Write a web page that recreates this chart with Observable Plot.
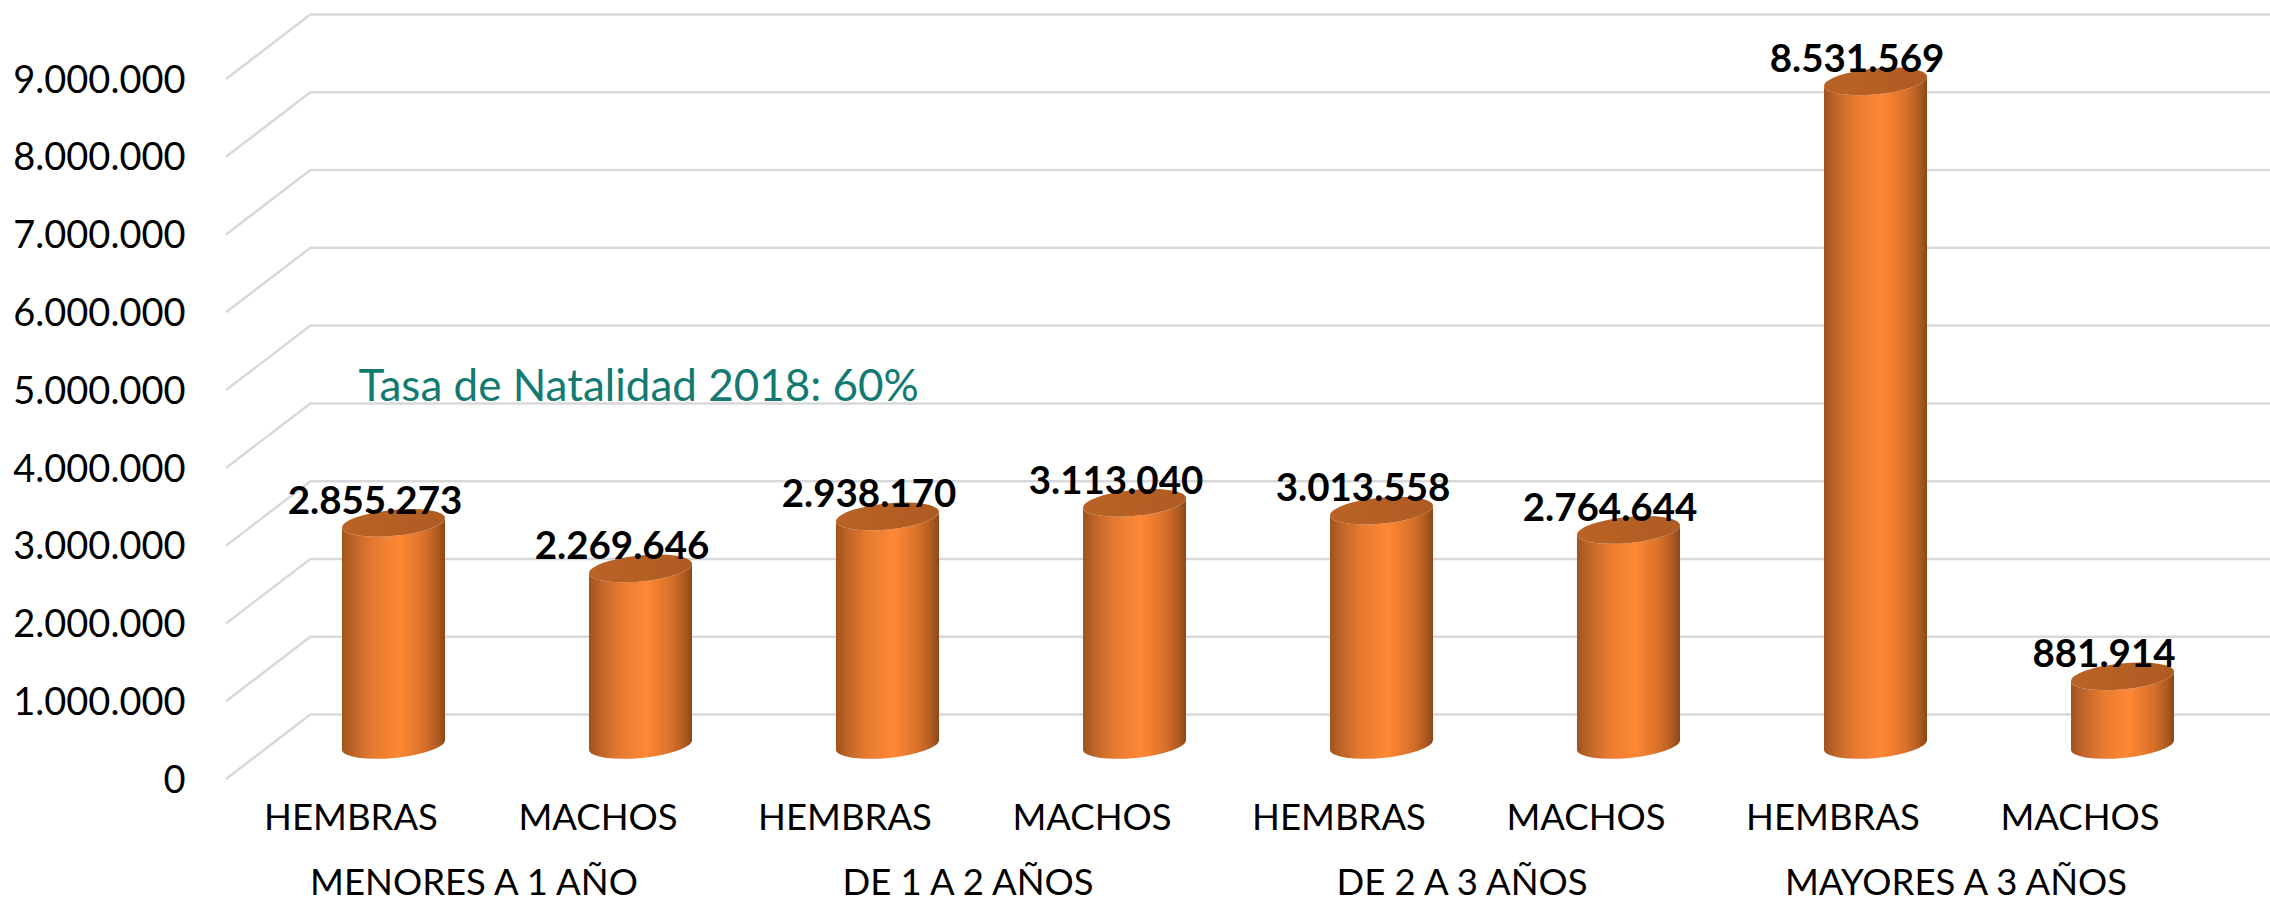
<!DOCTYPE html>
<html>
<head>
<meta charset="utf-8">
<script src="https://cdn.jsdelivr.net/npm/d3@7"></script>
<script src="https://cdn.jsdelivr.net/npm/@observablehq/plot@0.6"></script>
<style>
html,body{margin:0;padding:0;background:#fff}
svg{display:block}
</style>
</head>
<body>
<div id="chart"></div>
<script>
const groups = ["MENORES A 1 AÑO", "DE 1 A 2 AÑOS", "DE 2 A 3 AÑOS", "MAYORES A 3 AÑOS"];
const sexes = ["HEMBRAS", "MACHOS"];
const values = [2855273, 2269646, 2938170, 3113040, 3013558, 2764644, 8531569, 881914];
const yTicks = [0, 1000000, 2000000, 3000000, 4000000, 5000000, 6000000, 7000000, 8000000, 9000000];
const note = "Tasa de Natalidad 2018: 60%";

const rows = values.map((v, i) => ({
  key: i,
  sex: sexes[i % 2],
  group: groups[Math.floor(i / 2)],
  value: v
}));
const fmt = d3.formatLocale({decimal: ",", thousands: ".", grouping: [3], currency: ["", ""]}).format(",");
const font = "Lato, Carlito, Calibri, sans-serif";

const FRONT_DX = -85, FRONT_DY = 65;   // depth of the 3D floor
const BAR_DY = 31, TILT = 5, RY = 13;  // cylinder placement and ellipse shape

function slants(index, {y}, values, {marginLeft}) {
  const g = d3.create("svg:g");
  g.selectAll("line").data(yTicks).join("line")
    .attr("x1", marginLeft).attr("x2", marginLeft + FRONT_DX)
    .attr("y1", d => y(d)).attr("y2", d => y(d) + FRONT_DY)
    .attr("stroke", "#d9d9d9").attr("stroke-width", 2.5);
  return g.node();
}

function cylinders(index, {x, y}) {
  const g = d3.create("svg:g");
  const defs = g.append("defs");
  const body = defs.append("linearGradient").attr("id", "cyl-body");
  [[0, "#a0531d"], [0.12, "#c0662a"], [0.3, "#e67a30"], [0.56, "#ff8835"], [0.8, "#d87029"], [0.93, "#ae5a20"], [1, "#8a4718"]]
    .forEach(([o, c]) => body.append("stop").attr("offset", o).attr("stop-color", c));
  const top = defs.append("linearGradient").attr("id", "cyl-top");
  [[0, "#bb6326"], [1, "#ae5b22"]]
    .forEach(([o, c]) => top.append("stop").attr("offset", o).attr("stop-color", c));
  const w = x.bandwidth();
  const rx = Math.hypot(w / 2, TILT);
  const rot = -Math.atan2(TILT, w / 2) * 180 / Math.PI;
  for (const r of rows) {
    const xl = x(r.key), xr = xl + w;
    const yt = y(r.value) + BAR_DY, yb = y(0) + BAR_DY;
    g.append("path")
      .attr("fill", "url(#cyl-body)")
      .attr("d", `M${xl},${yt + TILT}L${xl},${yb + TILT}A${rx},${RY} ${rot} 0 0 ${xr},${yb - TILT}L${xr},${yt - TILT}A${rx},${RY} ${rot} 0 1 ${xl},${yt + TILT}Z`);
    g.append("ellipse")
      .attr("fill", "url(#cyl-top)")
      .attr("cx", xl + w / 2).attr("cy", yt)
      .attr("rx", rx).attr("ry", RY)
      .attr("transform", `rotate(${rot} ${xl + w / 2} ${yt})`);
  }
  return g.node();
}

const plot = Plot.plot({
  width: 2270,
  height: 903,
  marginLeft: 311,
  marginRight: 0,
  marginTop: 14,
  marginBottom: 189,
  style: {fontFamily: font, background: "#fff"},
  x: {type: "band", axis: null, domain: rows.map(d => d.key), range: [268, 2248], paddingInner: 0.584, paddingOuter: 0.292, align: 0.5},
  y: {domain: [0, 9000000], range: [714, 14]},
  marks: [
    Plot.ruleY(yTicks, {stroke: "#d9d9d9", strokeWidth: 2.5, strokeOpacity: 1}),
    slants,
    cylinders,
    Plot.axisY(yTicks, {
      anchor: "left", label: null, tickSize: 0, tickFormat: fmt,
      fontSize: 38, fill: "#000", color: "#000", dx: -126, dy: 66, textAnchor: "end", tickPadding: 0
    }),
    Plot.text(rows, {
      x: "key", y: "value", text: d => fmt(d.value),
      fontSize: 38.5, fontWeight: 700, fill: "#000", dx: -19, dy: 9
    }),
    Plot.text(rows, {
      x: "key", text: "sex", frameAnchor: "bottom", dy: 115, dx: -43,
      fontSize: 36.5, fill: "#000"
    }),
    Plot.text(rows.filter(d => d.sex === sexes[0]), {
      x: "key", text: "group", frameAnchor: "bottom", dy: 180, dx: 80,
      fontSize: 36.5, fill: "#000"
    }),
    Plot.text([note], {
      text: d => d, frameAnchor: "top-left", dx: 47, dy: 355,
      textAnchor: "start", fontSize: 44, fill: "#127a70"
    })
  ]
});
document.getElementById("chart").append(plot);
</script>
</body>
</html>
